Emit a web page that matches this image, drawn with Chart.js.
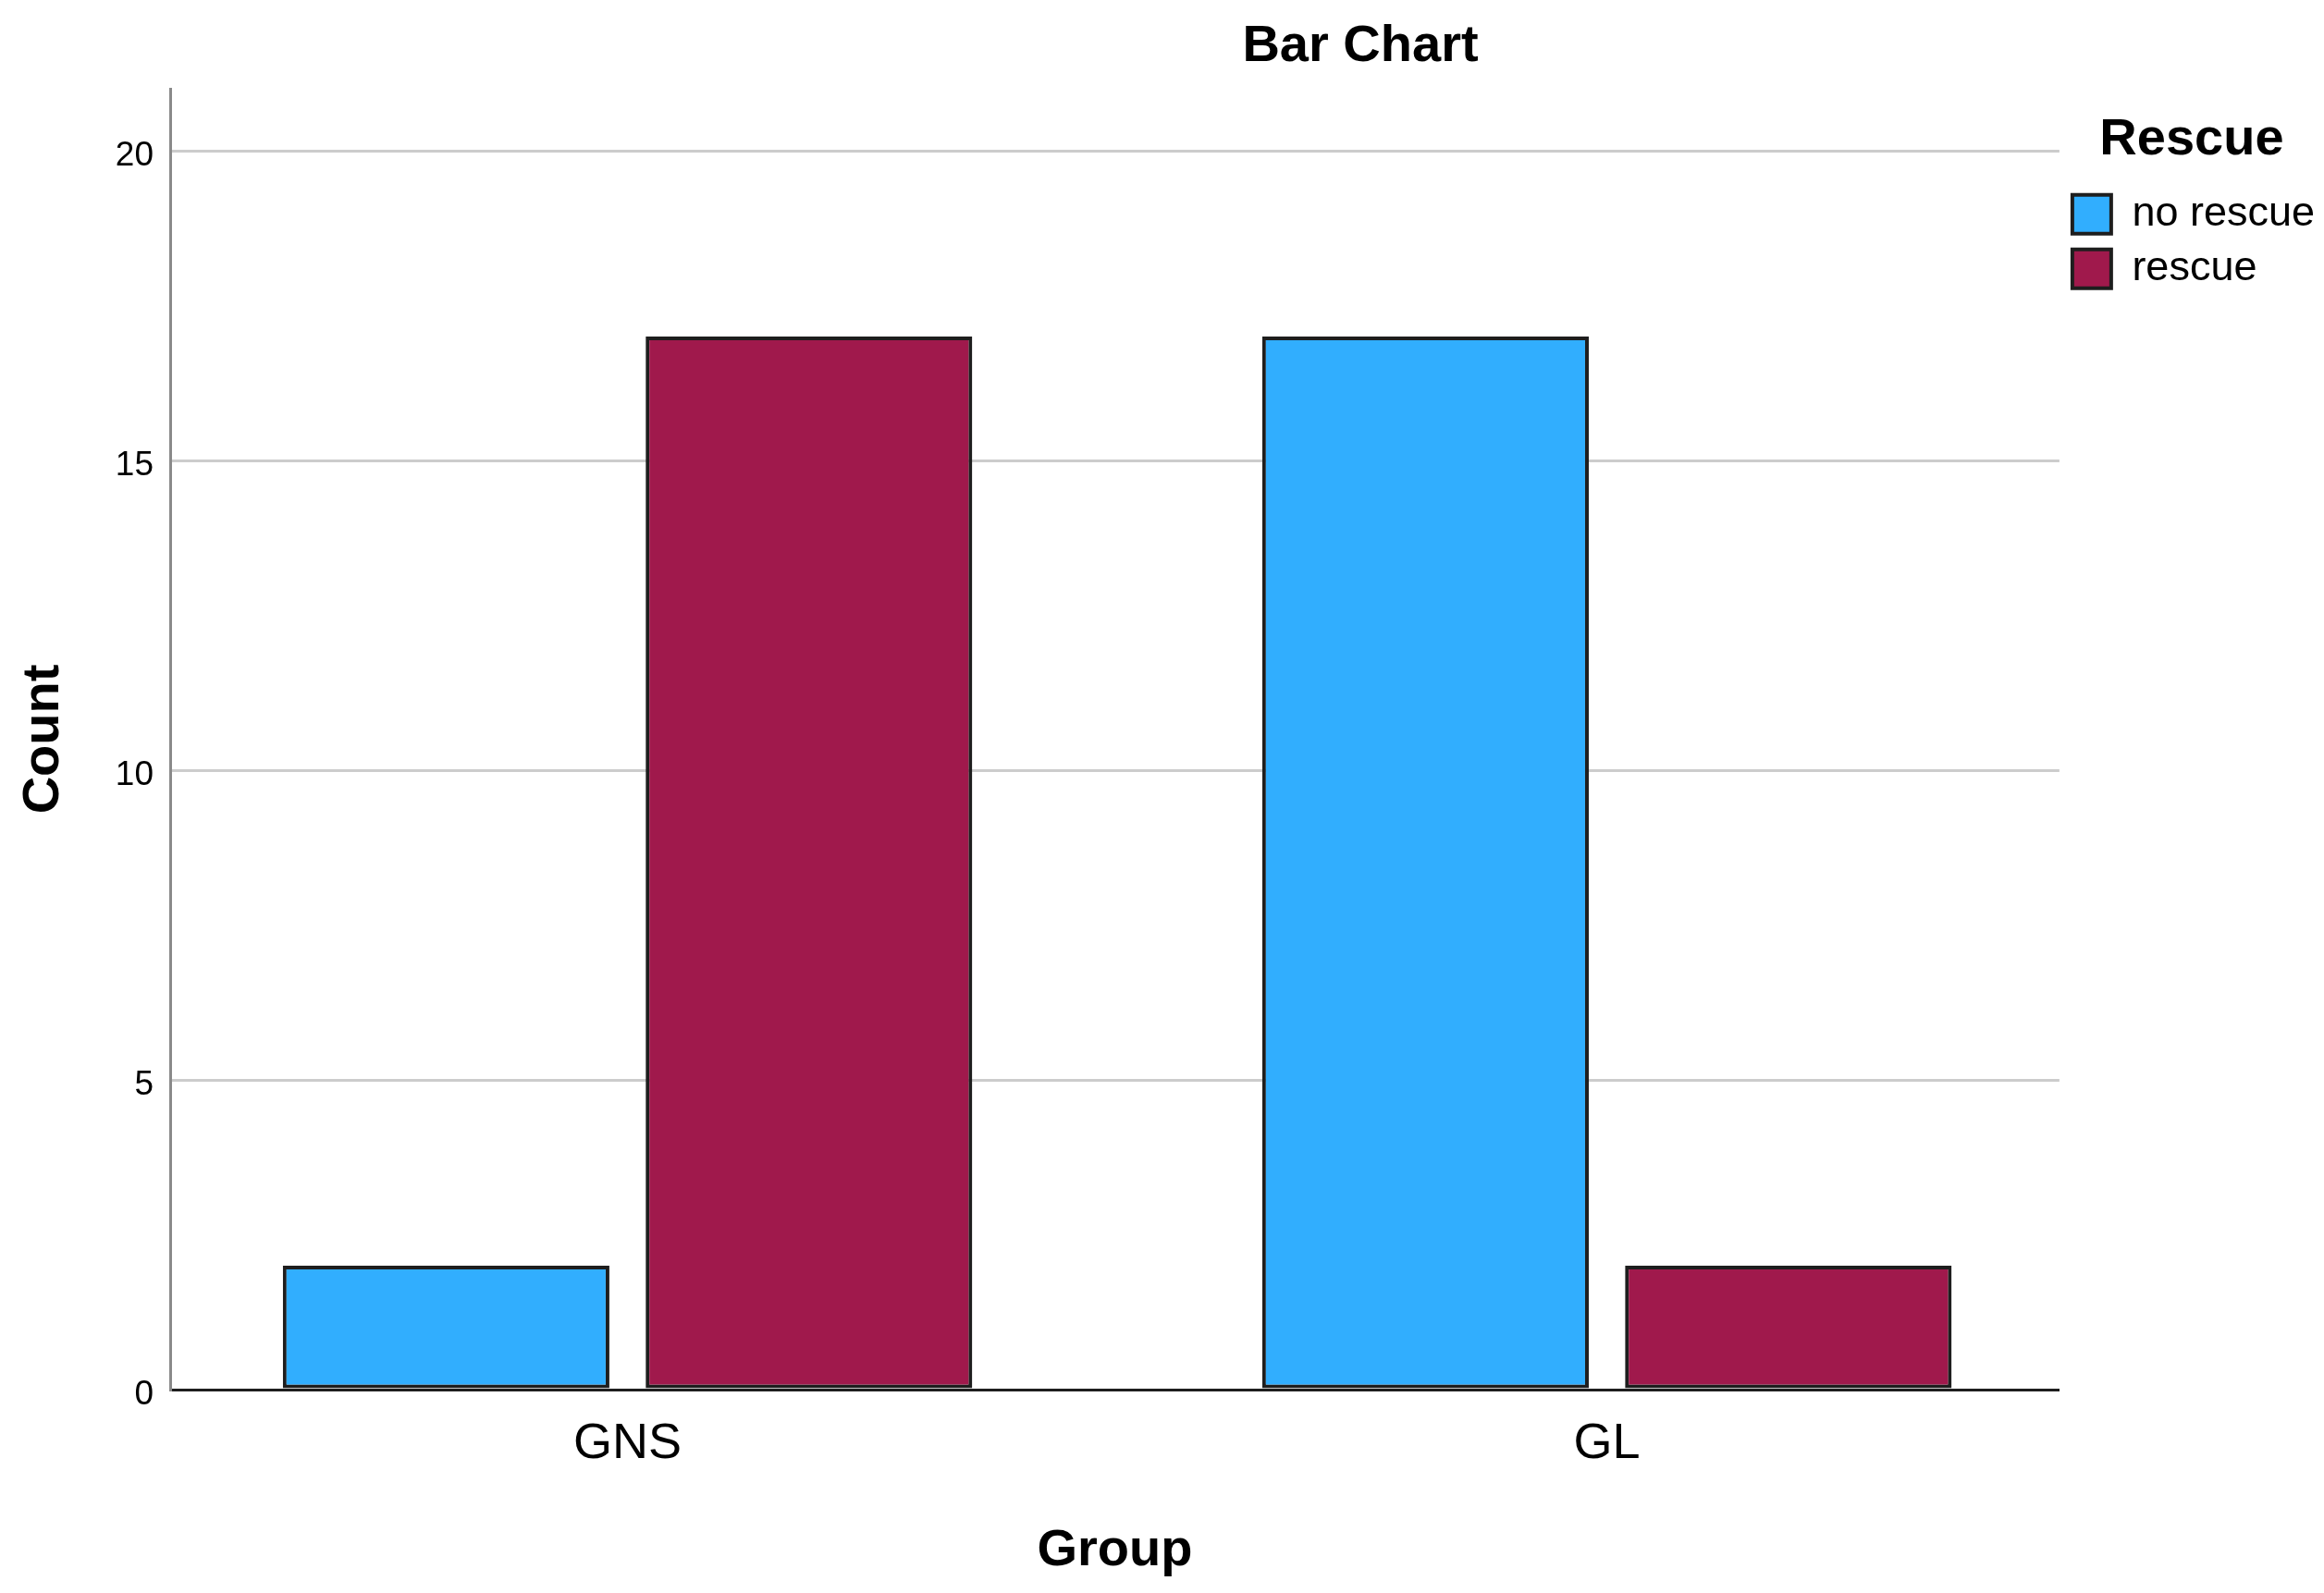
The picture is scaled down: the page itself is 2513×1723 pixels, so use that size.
<!DOCTYPE html>
<html><head><meta charset="utf-8">
<script src="https://cdn.jsdelivr.net/npm/chart.js@4"></script>
<style>html,body{margin:0;padding:0;background:#fff;}#wrap{position:relative;width:2513px;height:1723px;}</style>
</head><body><div id="wrap"><canvas id="c" width="2513" height="1723"></canvas></div>
<script>
const chartTitle = 'Bar Chart';
const categories = ['GNS', 'GL'];
const seriesNames = ['no rescue', 'rescue'];
const noRescue = [2, 17];
const rescue = [17, 2];
const yTicks = [0, 5, 10, 15, 20];
const yMax = 21;
const xMin = -0.467, xMax = 1.462;
const seriesColors = ['#31aefe', '#a0194c'];

const FAM = '"Liberation Sans", Arial, sans-serif';
Chart.defaults.font.family = FAM;
Chart.defaults.color = '#000';

const titlePlugin = {
  id: 'fixedTitle',
  afterDraw(chart) {
    const ctx = chart.ctx;
    ctx.save();
    ctx.font = 'bold 56px ' + FAM;
    ctx.fillStyle = '#000';
    ctx.textAlign = 'center';
    ctx.textBaseline = 'middle';
    ctx.fillText(chartTitle, 1471, 51);
    ctx.restore();
  }
};

const seriesData = [noRescue, rescue];
new Chart(document.getElementById('c'), {
  type: 'bar',
  data: {
    datasets: seriesNames.map((name, k) => ({
      label: name,
      data: seriesData[k].map((v, i) => ({x: i, y: v})),
      backgroundColor: seriesColors[k],
      borderColor: '#1e1e1e',
      borderWidth: 4,
      borderSkipped: false,
      categoryPercentage: 0.741,
      barPercentage: 0.9
    }))
  },
  options: {
    responsive: false,
    animation: false,
    events: [],
    layout: {padding: {top: 96, left: 0, right: 0, bottom: 0}},
    scales: {
      x: {
        type: 'linear', min: xMin, max: xMax, offset: false,
        afterBuildTicks: s => { s.ticks = categories.map((c, i) => ({value: i})); },
        afterFit: s => { s.height = 220; },
        ticks: {callback: v => categories[v] ?? '', font: {size: 54}, color: '#000', padding: 27, maxRotation: 0, autoSkip: false},
        grid: {display: false, drawTicks: false, offset: false},
        border: {display: true, color: '#1e1e1e', width: 3},
        title: {display: true, text: 'Group', font: {size: 56, weight: 'bold'}, color: '#000', padding: {top: 0, bottom: 12}}
      },
      y: {
        min: 0, max: yMax,
        afterBuildTicks: s => { s.ticks = yTicks.map(v => ({value: v})); },
        afterFit: s => { s.width = 184; },
        ticks: {font: {size: 37}, color: '#000', padding: 18, labelOffset: 6},
        grid: {color: '#cccccc', lineWidth: 3, drawTicks: false},
        border: {display: true, color: '#8a8a8a', width: 3},
        title: {display: true, text: 'Count', font: {size: 56, weight: 'bold'}, color: '#000', padding: {top: 14, bottom: 0}}
      }
    },
    plugins: {
      title: {display: false},
      tooltip: {enabled: false},
      legend: {
        position: 'right', align: 'start',
        title: {display: true, text: 'Rescue', font: {size: 56, weight: 'bold'}, color: '#000', padding: {top: 28, bottom: 4}},
        labels: {boxWidth: 42, boxHeight: 42, font: {size: 45}, color: '#000', padding: 14}
      }
    }
  },
  plugins: [titlePlugin]
});
</script></body></html>
